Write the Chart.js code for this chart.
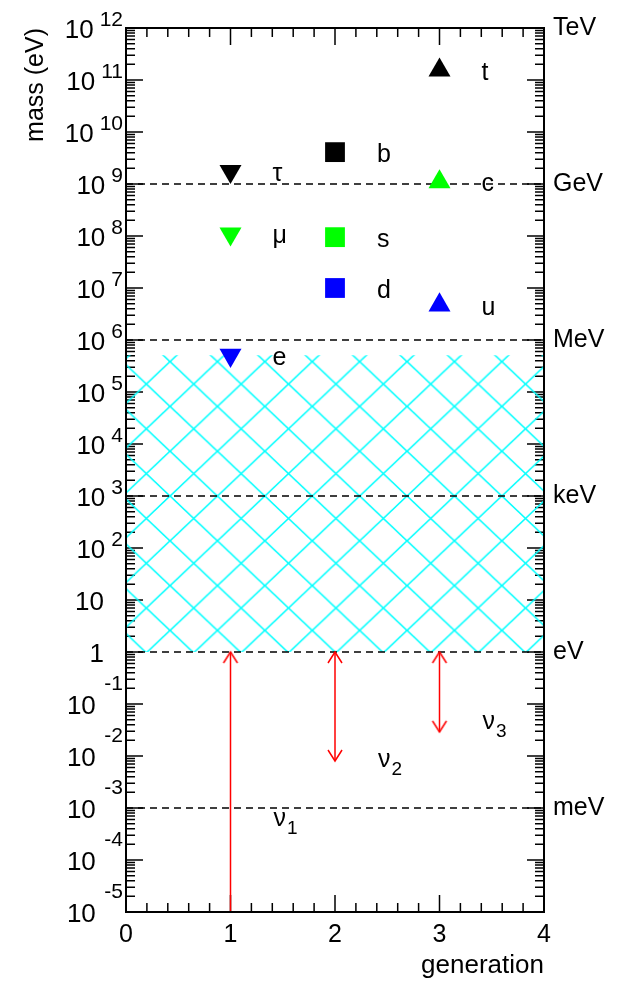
<!DOCTYPE html>
<html>
<head>
<meta charset="utf-8">
<script src="https://cdn.jsdelivr.net/npm/chart.js@4.4.1/dist/chart.umd.min.js"></script>
<style>
  html, body { margin: 0; padding: 0; background: #fff; }
  #wrap { width: 617px; height: 981px; position: relative; }
</style>
</head>
<body>
<div id="wrap"><canvas id="massChart"></canvas></div>
<script>
// Fermion mass spectrum (mass in eV, log scale)

const FONT = "'Liberation Sans', Arial, Helvetica, sans-serif";

// marker colour per generation (1st, 2nd, 3rd)
const genColors = ["#0000ff", "#00ff00", "#000000"];

// charged leptons, column 1
const leptonX = 1;
const leptonNames = ["e", "μ", "τ"];
const leptonMass = [5.1e5, 1.1e8, 1.75e9];

// down-type quarks, column 2
const downX = 2;
const downNames = ["d", "s", "b"];
const downMass = [1.0e7, 9.5e7, 4.1e9];

// up-type quarks, column 3
const upX = 3;
const upNames = ["u", "c", "t"];
const upMass = [4.7e6, 1.1e9, 1.55e11];

// neutrinos: column, allowed mass range (lower, upper) and label anchor
const nuX = [1, 2, 3];
const nuIndex = ["1", "2", "3"];
const nuLow = [1e-5, 8e-3, 2.9e-2];
const nuHigh = [1, 1, 1];
const nuLabelMass = [4.5e-4, 6.2e-3, 3.3e-2];

// hatched band (below the electron mass, above 1 eV)
const bandLow = 1;
const bandHigh = 5.11e5;

// unit labels on the right and dashed reference lines
const unitValues = [1e12, 1e9, 1e6, 1e3, 1, 1e-3];
const unitNames = ["TeV", "GeV", "MeV", "keV", "eV", "meV"];
const refLines = [1e9, 1e6, 1e3, 1, 1e-3];

// axis ranges
const xMin = 0, xMax = 4;
const yMinExp = -5, yMaxExp = 12;

// cyan cross-hatch pattern for the band
function makeHatch() {
  const w = 47, h = 45;
  const c = document.createElement("canvas");
  c.width = w;
  c.height = h;
  const g = c.getContext("2d");
  g.strokeStyle = "#00ffff";
  g.lineWidth = 1.6;
  g.beginPath();
  for (let dx = -w; dx <= w; dx += w) {
    for (let dy = -h; dy <= h; dy += h) {
      g.moveTo(dx, dy); g.lineTo(dx + w, dy + h);
      g.moveTo(dx + w, dy); g.lineTo(dx, dy + h);
    }
  }
  g.stroke();
  const p = g.createPattern(c, "repeat");
  p.setTransform(new DOMMatrix().translate(170, 496).scale(47.4 / w, 44.8 / h));
  return p;
}

// open arrow head, tip at the centre of the image
function makeArrowHead() {
  const s = 14;
  const c = document.createElement("canvas");
  c.width = 2 * s;
  c.height = 2 * s;
  const g = c.getContext("2d");
  g.strokeStyle = "#ff0000";
  g.lineWidth = 1.5;
  g.beginPath();
  g.moveTo(s - 7, s + 11);
  g.lineTo(s, s);
  g.lineTo(s + 7, s + 11);
  g.stroke();
  return c;
}

const hatch = makeHatch();
const arrowHead = makeArrowHead();

const datasets = [];

// hatched band
datasets.push({
  type: "line",
  data: [{ x: xMin, y: bandHigh }, { x: xMax, y: bandHigh }],
  fill: { value: bandLow },
  backgroundColor: hatch,
  borderColor: "rgba(0,0,0,0)",
  borderWidth: 0,
  pointRadius: 0,
  order: 10,
});

// dashed reference lines
refLines.forEach((v) => {
  datasets.push({
    type: "line",
    data: [{ x: xMin, y: v }, { x: xMax, y: v }],
    borderColor: "#000",
    borderWidth: 1.5,
    borderDash: [7, 5],
    pointRadius: 0,
    fill: false,
    order: 5,
  });
});

// neutrino mass ranges as red arrows
nuX.forEach((g, i) => {
  datasets.push({
    type: "line",
    data: [{ x: g, y: nuLow[i] }, { x: g, y: nuHigh[i] }],
    borderColor: "#ff0000",
    borderWidth: 1.5,
    fill: false,
    pointStyle: arrowHead,
    pointRotation: [180, 0],
    pointRadius: [i === 0 ? 0 : 5, 5],
    order: 2,
  });
});

// charged leptons (down triangles)
datasets.push({
  type: "scatter",
  data: leptonMass.map((m) => ({ x: leptonX, y: m })),
  pointStyle: "triangle",
  pointRotation: 180,
  pointRadius: 12.7,
  pointBackgroundColor: genColors,
  pointBorderWidth: 0,
  order: 1,
});

// down-type quarks (squares)
datasets.push({
  type: "scatter",
  data: downMass.map((m) => ({ x: downX, y: m })),
  pointStyle: "rect",
  pointRadius: 14,
  pointBackgroundColor: genColors,
  pointBorderWidth: 0,
  order: 1,
});

// up-type quarks (up triangles)
datasets.push({
  type: "scatter",
  data: upMass.map((m) => ({ x: upX, y: m })),
  pointStyle: "triangle",
  pointRadius: 12.7,
  pointBackgroundColor: genColors,
  pointBorderWidth: 0,
  order: 1,
});

// inward ticks under the data, frame and texts on top
const decorPlugin = {
  id: "decor",
  beforeDatasetsDraw(chart) {
    const { ctx, chartArea: a } = chart;
    const xs = chart.scales.x;
    const ys = chart.scales.y;
    ctx.save();
    ctx.strokeStyle = "#000";
    ctx.lineWidth = 1.5;
    ctx.beginPath();
    // log ticks on left and right
    for (let e = yMinExp; e <= yMaxExp; e++) {
      for (let k = 1; k <= 9; k++) {
        if (e === yMaxExp && k > 1) break;
        const py = ys.getPixelForValue(k * Math.pow(10, e));
        const len = k === 1 ? 17 : 9;
        ctx.moveTo(a.left, py); ctx.lineTo(a.left + len, py);
        ctx.moveTo(a.right, py); ctx.lineTo(a.right - len, py);
      }
    }
    // linear ticks on bottom and top
    for (let i = 0; i <= 20; i++) {
      const px = xs.getPixelForValue(xMin + i * 0.2);
      const len = i % 5 === 0 ? 17 : 9;
      ctx.moveTo(px, a.bottom); ctx.lineTo(px, a.bottom - len);
      ctx.moveTo(px, a.top); ctx.lineTo(px, a.top + len);
    }
    ctx.stroke();
    ctx.restore();
  },
  afterDraw(chart) {
    const { ctx, chartArea: a } = chart;
    const xs = chart.scales.x;
    const ys = chart.scales.y;
    ctx.save();
    ctx.strokeStyle = "#000";
    ctx.fillStyle = "#000";
    ctx.lineWidth = 2;
    ctx.strokeRect(a.left, a.top, a.right - a.left, a.bottom - a.top);

    // y tick labels 10^n
    ctx.textBaseline = "alphabetic";
    ctx.textAlign = "right";
    for (let e = yMinExp; e <= yMaxExp; e++) {
      const py = ys.getPixelForValue(Math.pow(10, e));
      if (e === 0 || e === 1) {
        ctx.font = "26px " + FONT;
        ctx.fillText(e === 0 ? "1" : "10", 104, py + 9.5);
        continue;
      }
      const exp = String(e);
      ctx.font = "21px " + FONT;
      const ew = ctx.measureText(exp).width;
      ctx.fillText(exp, 123, e > 0 ? py - 2.5 : py - 14.5);
      ctx.font = "26px " + FONT;
      ctx.fillText("10", 123 - ew - (e > 0 ? 6 : 8.5), py + 9.5);
    }

    // particle names next to their markers
    ctx.textAlign = "left";
    ctx.font = "25px " + FONT;
    const groups = [
      [leptonX, leptonNames, leptonMass],
      [downX, downNames, downMass],
      [upX, upNames, upMass],
    ];
    groups.forEach(([gx, list, masses]) => {
      list.forEach((n, i) => {
        const px = xs.getPixelForValue(gx) + 42;
        const py = ys.getPixelForValue(masses[i]) + 9.5;
        ctx.fillText(n, px, py);
      });
    });

    // neutrino names with subscript
    nuIndex.forEach((n, i) => {
      const px = xs.getPixelForValue(nuX[i]) + 43;
      const py = ys.getPixelForValue(nuLabelMass[i]);
      ctx.font = "25px " + FONT;
      ctx.fillText("ν", px, py);
      const w = ctx.measureText("ν").width;
      ctx.font = "19px " + FONT;
      ctx.fillText(n, px + w + 1, py + 8);
    });
    ctx.restore();
  },
};

new Chart(document.getElementById("massChart"), {
  type: "scatter",
  data: { datasets: datasets },
  options: {
    responsive: true,
    maintainAspectRatio: false,
    animation: false,
    events: [],
    layout: { padding: { top: 28, left: 0, right: 0, bottom: 0 } },
    plugins: {
      legend: { display: false },
      tooltip: { enabled: false },
    },
    scales: {
      x: {
        type: "linear",
        min: xMin,
        max: xMax,
        position: "bottom",
        grid: { display: false, drawTicks: false },
        border: { display: false },
        ticks: {
          stepSize: 1,
          maxRotation: 0,
          padding: 8,
          color: "#000",
          font: { size: 25, family: FONT },
        },
        title: {
          display: true,
          text: "generation",
          align: "end",
          color: "#000",
          font: { size: 26, family: FONT },
          padding: { top: 1, bottom: 0 },
        },
        afterFit: (s) => { s.height = 69; },
      },
      y: {
        type: "logarithmic",
        min: Math.pow(10, yMinExp),
        max: Math.pow(10, yMaxExp),
        position: "left",
        grid: { display: false, drawTicks: false },
        border: { display: false },
        ticks: { display: false },
        title: {
          display: true,
          text: "mass (eV)",
          align: "end",
          color: "#000",
          font: { size: 25, family: FONT },
          padding: { top: 21, bottom: 0 },
        },
        afterFit: (s) => { s.width = 126; },
      },
      y2: {
        type: "logarithmic",
        min: Math.pow(10, yMinExp),
        max: Math.pow(10, yMaxExp),
        position: "right",
        grid: { display: false, drawTicks: false },
        border: { display: false },
        afterBuildTicks: (s) => { s.ticks = unitValues.map((v) => ({ value: v })); },
        ticks: {
          autoSkip: false,
          padding: 9,
          color: "#000",
          font: { size: 25, family: FONT },
          callback: (v) => {
            const i = unitValues.indexOf(v);
            return i >= 0 ? unitNames[i] : "";
          },
        },
        afterFit: (s) => { s.width = 73; },
      },
    },
  },
  plugins: [decorPlugin],
});
</script>
</body>
</html>
